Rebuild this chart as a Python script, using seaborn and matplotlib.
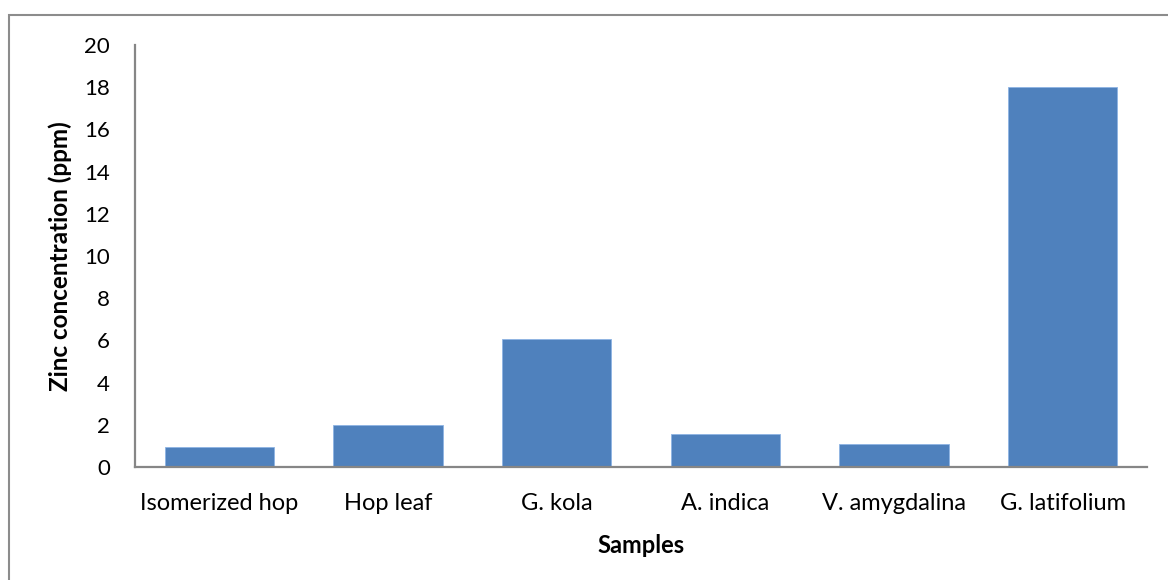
import matplotlib
matplotlib.use("Agg")
import matplotlib.pyplot as plt
import seaborn as sns
import pandas as pd
from matplotlib.patches import Rectangle

samples = ["Isomerized hop", "Hop leaf", "G. kola", "A. indica", "V. amygdalina", "G. latifolium"]
zinc = [0.95, 2.0, 6.08, 1.58, 1.07, 18.0]
yticks = [0, 2, 4, 6, 8, 10, 12, 14, 16, 18, 20]

sns.set_theme(style="white")
plt.rcParams['font.family'] = ['Lato', 'DejaVu Sans']

df = pd.DataFrame({"Samples": samples, "Zinc": zinc})

fig = plt.figure(figsize=(11.68, 5.8), dpi=100)
ax = fig.add_axes([135/1168, 113/580, (1147-135)/1168, 422/580])

sns.barplot(data=df, x="Samples", y="Zinc", color="#4F81BD", saturation=1,
            width=0.65, ax=ax, edgecolor="#8EB4E3", linewidth=0.6)

ax.set_ylim(0, 20)
ax.set_xlim(-0.5, len(samples) - 0.5)
ax.set_yticks(yticks)
ax.set_yticklabels([str(t) for t in yticks], fontsize=16)
ax.tick_params(axis='x', labelsize=17, pad=19, length=0)
ax.tick_params(axis='y', pad=18, length=0)
for lab in ax.get_xticklabels() + ax.get_yticklabels():
    lab.set_color("black")

ax.set_xlabel("Samples", fontsize=17, fontweight="bold", labelpad=14, color="black")
ax.set_ylabel("Zinc concentration (ppm)", fontsize=17.5, fontweight="bold", labelpad=9, color="black")

for s in ["top", "right"]:
    ax.spines[s].set_visible(False)
for s in ["left", "bottom"]:
    ax.spines[s].set_color("#868686")
    ax.spines[s].set_linewidth(1.6)

fig.patches.append(Rectangle((9/1168, -0.1), 1.2, (580-15)/580 + 0.1,
                             transform=fig.transFigure, fill=False,
                             edgecolor="#8c8c8c", linewidth=1.5))

fig.savefig("out.png", dpi=100, facecolor="white")
